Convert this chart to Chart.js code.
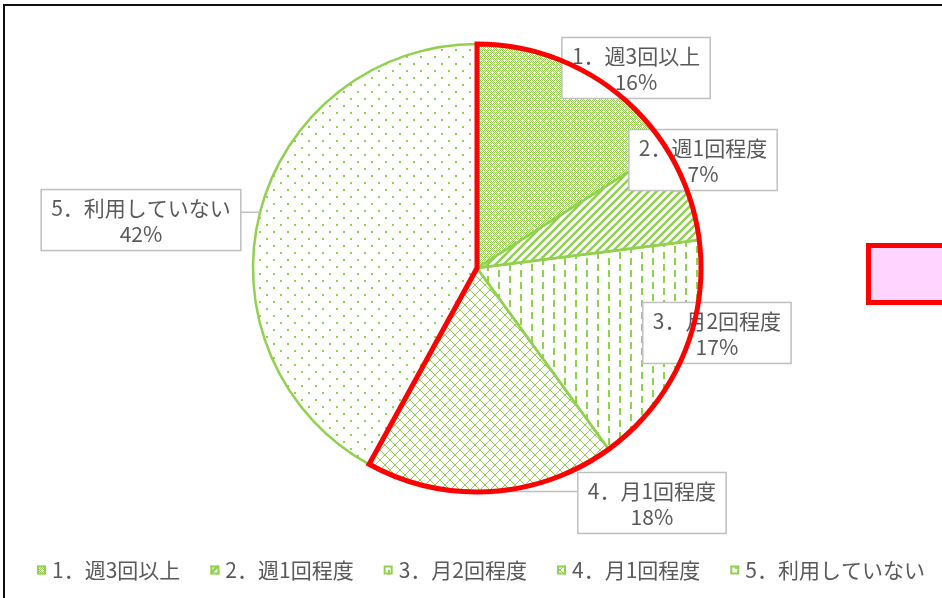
<!DOCTYPE html>
<html>
<head>
<meta charset="utf-8">
<script src="https://cdn.jsdelivr.net/npm/chart.js@4/dist/chart.umd.min.js"></script>
<style>
body { margin: 0; background: #fff; overflow: hidden; }
#wrap { position: relative; width: 942px; height: 598px; overflow: hidden; }
#pie { position: absolute; left: 0; top: 0; }
#frame { position: absolute; left: 3px; top: 4px; width: 1000px; height: 700px; border-left: 2px solid #111; border-top: 2px solid #111; }
#shape { position: absolute; left: 866px; top: 243px; width: 100px; height: 52px; background: #FFD5FF; border: 5px solid #FF0000; }
</style>
</head>
<body>
<div id="wrap">
  <canvas id="pie" width="942" height="598"></canvas>
  <div id="frame"></div>
  <div id="shape"></div>
</div>
<script>
'use strict';

// data
var categories = ['1．週3回以上', '2．週1回程度', '3．月2回程度', '4．月1回程度', '5．利用していない'];
var shares = [16, 7, 17, 18, 42];

// where each callout box sits, in pie radii from the centre
var calloutSpots = [[0.71, -0.893], [1.009, -0.482], [1.071, 0.29], [0.781, 1.049], [-1.5, -0.214]];

var green = '#92D050';
var textGrey = '#595959';
var fontName = '"Noto Sans CJK JP", "Noto Sans", sans-serif';
var fontSize = 21;

function makePattern(kind) {
    var c = document.createElement('canvas');
    var g = c.getContext('2d');
    if (kind === 'dense') {
        c.width = 6; c.height = 6;
        g.fillStyle = '#fff';
        g.fillRect(0, 0, 6, 6);
        g.fillStyle = green;
        for (var x = 0; x < 6; x++) {
            for (var y = 0; y < 6; y++) {
                if ((x + y) % 2 === 0 && !(x === 0 && y === 0) && !(x === 3 && y === 3)) g.fillRect(x, y, 1, 1);
            }
        }
    } else if (kind === 'diag') {
        c.width = 8; c.height = 8;
        g.strokeStyle = green;
        g.lineWidth = 2.6;
        g.beginPath();
        g.moveTo(-2, 10); g.lineTo(10, -2);
        g.moveTo(-6, 6); g.lineTo(6, -6);
        g.moveTo(2, 14); g.lineTo(14, 2);
        g.stroke();
    } else if (kind === 'dash') {
        c.width = 22; c.height = 12;
        g.fillStyle = green;
        g.fillRect(3, 0, 2, 7);
        g.fillRect(14, 6, 2, 6);
        g.fillRect(14, 0, 2, 1);
    } else if (kind === 'lattice') {
        c.width = 10; c.height = 10;
        g.strokeStyle = green;
        g.lineWidth = 1;
        g.beginPath();
        g.moveTo(0, 0); g.lineTo(10, 10);
        g.moveTo(10, 0); g.lineTo(0, 10);
        g.stroke();
    } else {
        c.width = 14; c.height = 14;
        g.fillStyle = green;
        g.fillRect(0, 0, 2, 2);
        g.fillRect(7, 7, 2, 2);
    }
    return g.createPattern(c, 'repeat');
}

var fills = [makePattern('dense'), makePattern('diag'), makePattern('dash'), makePattern('lattice'), makePattern('dots')];

var callouts = {
    id: 'callouts',
    afterDatasetsDraw: function (chart) {
        var meta = chart.getDatasetMeta(0);
        var ctx = chart.ctx;
        ctx.save();
        ctx.font = fontSize + 'px ' + fontName;
        meta.data.forEach(function (arc, i) {
            var r = arc.outerRadius;
            var mid = (arc.startAngle + arc.endAngle) / 2;
            var ex = arc.x + Math.cos(mid) * r;
            var ey = arc.y + Math.sin(mid) * r;
            var cx = arc.x + calloutSpots[i][0] * r;
            var cy = arc.y + calloutSpots[i][1] * r;
            var line1 = categories[i];
            var line2 = shares[i] + '%';
            var w = Math.max(ctx.measureText(line1).width, ctx.measureText(line2).width) + 20;
            var h = 61;
            var bx = cx - w / 2, by = cy - h / 2;
            var nx = Math.min(Math.max(ex, bx), bx + w);
            var ny = Math.min(Math.max(ey, by), by + h);
            // short callouts hook onto the box corner, like the original
            if (Math.hypot(nx - ex, ny - ey) < 6) { nx = bx; ny = by + h - 4; }
            ctx.strokeStyle = '#BFBFBF';
            ctx.lineWidth = 1.5;
            ctx.beginPath();
            ctx.moveTo(ex, ey);
            ctx.lineTo(nx, ny);
            ctx.stroke();
            ctx.fillStyle = '#fff';
            ctx.fillRect(bx, by, w, h);
            ctx.strokeRect(bx, by, w, h);
            ctx.fillStyle = textGrey;
            ctx.textAlign = 'center';
            ctx.textBaseline = 'middle';
            ctx.fillText(line1, cx, cy - 12);
            ctx.fillText(line2, cx, cy + 14);
        });

        // red outline around the first four slices
        var first = meta.data[0], fourth = meta.data[3];
        ctx.strokeStyle = '#FF0000';
        ctx.lineWidth = 5;
        ctx.lineJoin = 'miter';
        ctx.beginPath();
        ctx.moveTo(first.x, first.y);
        ctx.arc(first.x, first.y, first.outerRadius, first.startAngle, fourth.endAngle);
        ctx.closePath();
        ctx.stroke();

        // legend row along the bottom
        var gap = 30, box = 9, boxGap = 6;
        var widths = categories.map(function (c) { return box + boxGap + ctx.measureText(c).width; });
        var total = widths.reduce(function (a, b) { return a + b; }, 0) + gap * (categories.length - 1);
        var x = (chart.chartArea.left + chart.chartArea.right) / 2 + 4 - total / 2;
        var y = 570;
        ctx.textAlign = 'left';
        ctx.textBaseline = 'middle';
        categories.forEach(function (c, i) {
            ctx.fillStyle = fills[i];
            ctx.fillRect(x, y - box / 2, box, box);
            ctx.strokeStyle = green;
            ctx.lineWidth = 2;
            ctx.strokeRect(x + 1, y - box / 2 + 1, box - 2, box - 2);
            ctx.fillStyle = textGrey;
            ctx.fillText(c, x + box + boxGap, y);
            x += widths[i] + gap;
        });
        ctx.restore();
    }
};

var pieCtx = document.getElementById('pie').getContext('2d');
var pieChart = new Chart(pieCtx, {
    type: 'pie',
    data: {
        labels: categories,
        datasets: [{
            data: shares,
            backgroundColor: fills,
            borderColor: green,
            borderWidth: 2.5,
            radius: 224
        }]
    },
    options: {
        responsive: false,
        animation: false,
        layout: { padding: { top: 43, left: 12, right: 0, bottom: 105 } },
        plugins: {
            tooltip: { enabled: false },
            legend: { display: false }
        }
    },
    plugins: [callouts]
});
</script>
</body>
</html>
